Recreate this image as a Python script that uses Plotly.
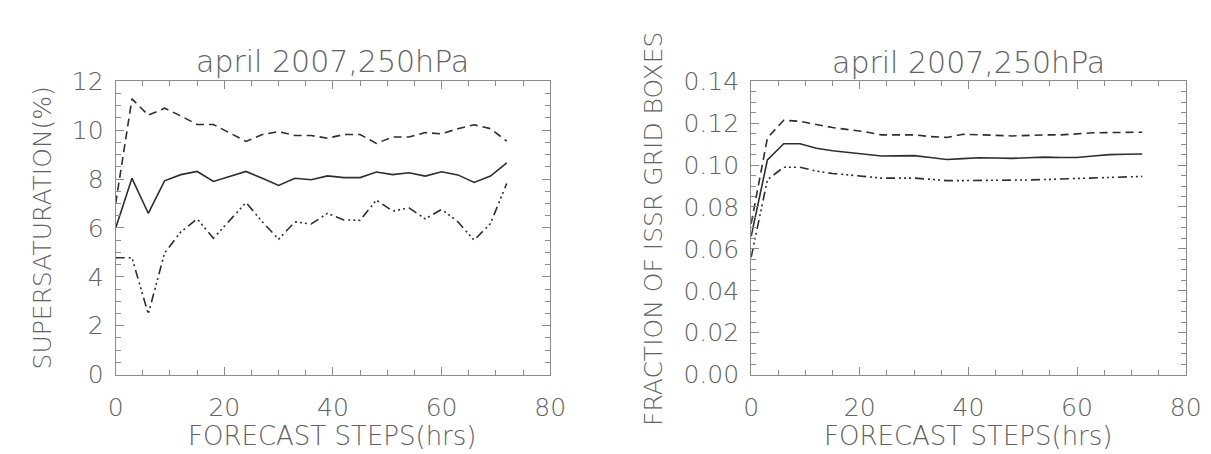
import plotly.graph_objects as go

# ---- data ----
hours = [0, 3, 6, 9, 12, 15, 18, 21, 24, 27, 30, 33, 36, 39, 42, 45, 48, 51, 54, 57, 60, 63, 66, 69, 72]

ss_mean = [6.0, 8.03, 6.6, 7.93, 8.18, 8.31, 7.9, 8.1, 8.31, 8.03, 7.74, 8.03, 7.97, 8.13, 8.06, 8.06,
           8.29, 8.18, 8.26, 8.12, 8.3, 8.17, 7.86, 8.12, 8.66]
ss_upper = [7.0, 11.28, 10.61, 10.9, 10.58, 10.23, 10.23, 9.88, 9.54, 9.82, 9.94, 9.78, 9.78, 9.67, 9.82, 9.82,
            9.46, 9.72, 9.72, 9.9, 9.85, 10.06, 10.22, 10.06, 9.55]
ss_lower = [4.78, 4.78, 2.48, 4.97, 5.84, 6.37, 5.58, 6.31, 7.04, 6.25, 5.54, 6.25, 6.16, 6.6, 6.33, 6.31,
            7.14, 6.69, 6.82, 6.37, 6.76, 6.25, 5.5, 6.18, 7.82]

fr_mean = [0.066, 0.1025, 0.1102, 0.1102, 0.108, 0.1068, 0.106, 0.1053, 0.1043, 0.1044, 0.1045, 0.1036, 0.1027,
           0.1031, 0.1035, 0.1034, 0.1032, 0.1035, 0.1038, 0.1036, 0.1036, 0.1043, 0.105, 0.1052, 0.1053]
fr_upper = [0.072, 0.113, 0.1214, 0.1209, 0.1194, 0.1179, 0.1169, 0.1159, 0.1144, 0.1144, 0.1144, 0.1136, 0.1132,
            0.1147, 0.1146, 0.1142, 0.1139, 0.1142, 0.1144, 0.1144, 0.115, 0.1154, 0.1155, 0.1157, 0.1157]
fr_lower = [0.056, 0.093, 0.099, 0.099, 0.0971, 0.096, 0.0953, 0.0946, 0.0938, 0.0938, 0.0938, 0.0932, 0.0926,
            0.0926, 0.0926, 0.0926, 0.0927, 0.0929, 0.0931, 0.0933, 0.0935, 0.0938, 0.0941, 0.0944, 0.0946]

x_ticks = [0, 20, 40, 60, 80]
ss_ticks = [0, 2, 4, 6, 8, 10, 12]
fr_ticks = [0.00, 0.02, 0.04, 0.06, 0.08, 0.10, 0.12, 0.14]

title_text = "april 2007,250hPa"
x_title = "FORECAST STEPS(hrs)"
y_title_left = "SUPERSATURATION(%)"
y_title_right = "FRACTION OF ISSR GRID BOXES"

# ---- style ----
W, H = 1211, 454
FONT = "DejaVu Sans"
WEIGHT = 300
TXT = "#626262"
LINE = "#2e2e2e"
FRAME = "#8c8c8c"
DASH = "8px,5px"
DASHDOT3 = "9px,4px,2px,3px,2px,3px,2px,4px"

fig = go.Figure()

def add_series(xa, ya, ys, dash):
    fig.add_trace(go.Scatter(x=hours, y=ys, mode="lines", xaxis=xa, yaxis=ya,
                             line=dict(color=LINE, width=1.6, dash=dash), showlegend=False,
                             hoverinfo="skip"))

add_series("x", "y", ss_upper, DASH)
add_series("x", "y", ss_mean, "solid")
add_series("x", "y", ss_lower, DASHDOT3)
add_series("x2", "y2", fr_upper, DASH)
add_series("x2", "y2", fr_mean, "solid")
add_series("x2", "y2", fr_lower, DASHDOT3)

top_px, bot_px = 63.3, 376.7
ydom = [1 - bot_px / H, 1 - top_px / H]
xdom1 = [101.7 / W, 545.0 / W]
xdom2 = [750.0 / W, 1193.3 / W]

tickfont = dict(family=FONT, size=25, color=TXT, weight=WEIGHT)

def xaxis_cfg(dom, anchor):
    return dict(domain=dom, anchor=anchor, range=[0, 80], tickvals=x_ticks,
                ticktext=[str(v) for v in x_ticks], ticks="inside", ticklen=8, tickwidth=1,
                tickcolor=FRAME, showline=True, linecolor=FRAME, linewidth=1, mirror="ticks",
                showgrid=False, zeroline=False, tickfont=tickfont, ticklabelstandoff=10,
                minor=dict(dtick=5, tick0=0, ticks="inside", ticklen=5, tickcolor=FRAME, showgrid=False))

def yaxis_cfg(dom, anchor, rng, tv, tt, mdt):
    return dict(domain=dom, anchor=anchor, range=rng, tickvals=tv, ticktext=tt,
                ticks="inside", ticklen=8, tickwidth=1, tickcolor=FRAME, showline=True,
                linecolor=FRAME, linewidth=1, mirror="ticks", showgrid=False, zeroline=False,
                tickfont=tickfont, ticklabelstandoff=6,
                minor=dict(dtick=mdt, tick0=0, ticks="inside", ticklen=5, tickcolor=FRAME, showgrid=False))

fig.update_layout(
    width=W, height=H, margin=dict(l=0, r=0, t=0, b=0),
    paper_bgcolor="white", plot_bgcolor="white",
    xaxis=xaxis_cfg(xdom1, "y"),
    yaxis=yaxis_cfg(ydom, "x", [0, 12], ss_ticks, [str(v) for v in ss_ticks], 0.5),
    xaxis2=xaxis_cfg(xdom2, "y2"),
    yaxis2=yaxis_cfg(ydom, "x2", [0, 0.14], fr_ticks, ["%.2f" % v for v in fr_ticks], 0.005),
)

def ann(text, x, y, size, angle=0):
    fig.add_annotation(text=text, xref="paper", yref="paper", x=x / W, y=1 - y / H,
                       xanchor="center", yanchor="middle", showarrow=False, textangle=angle,
                       font=dict(family=FONT, size=size, color=TXT, weight=WEIGHT))

ann(title_text, 323, 42, 30)
ann(title_text, 971.5, 43, 30)
ann(x_title, 323, 442, 26)
ann(x_title, 971.5, 442, 26)
ann(y_title_left, 27, 220, 25, -90)
ann(y_title_right, 651, 221, 25, -90)

fig.write_html("out.html")
